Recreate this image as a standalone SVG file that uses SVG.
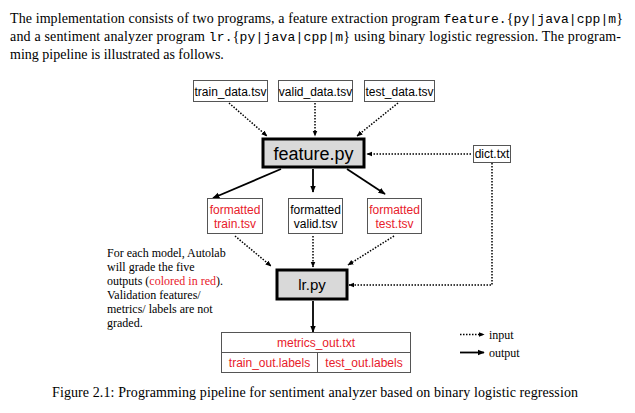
<svg xmlns="http://www.w3.org/2000/svg" width="635" height="413" viewBox="0 0 635 413">
<style>
.para{font-family:"Liberation Serif","Times New Roman",serif;font-size:14px;fill:#000}
.mono{font-family:"Liberation Mono","Courier New",monospace;font-size:13px}
.note{font-family:"Liberation Serif","Times New Roman",serif;font-size:12px;fill:#000}
.lbl{font-family:"Liberation Sans",Arial,sans-serif;font-size:12px;fill:#000;text-anchor:middle}
.red{fill:#e8202a}
.box{fill:#fff;stroke:#555;stroke-width:1}
.prog{fill:#d9d9d9;stroke:#000;stroke-width:3}
.dot{fill:none;stroke:#000;stroke-width:1.5;stroke-dasharray:1.5 1.5;marker-end:url(#ah)}
.sol{fill:none;stroke:#000;stroke-width:1.8;marker-end:url(#ah)}
</style>
<defs>
<marker id="ah" viewBox="0 0 10 10" refX="9" refY="5" markerWidth="4" markerHeight="4" orient="auto" markerUnits="strokeWidth">
<path d="M0,1 L10,5 L0,9 z" fill="#000"/>
</marker>
</defs>
<rect width="635" height="413" fill="#fff"/>

<g id="paragraph">
<text class="para" x="10" y="23" textLength="613">The implementation consists of two programs, a feature extraction program <tspan class="mono">feature.</tspan>{<tspan class="mono">py|java|cpp|m</tspan>}</text>
<text class="para" x="10" y="41" textLength="611">and a sentiment analyzer program <tspan class="mono">lr.</tspan>{<tspan class="mono">py|java|cpp|m</tspan>} using binary logistic regression.  The program-</text>
<text class="para" x="10" y="59">ming pipeline is illustrated as follows.</text>
</g>

<g id="connectors">
<line class="dot" x1="229" y1="103" x2="267" y2="136"/>
<line class="dot" x1="315" y1="103" x2="315" y2="136"/>
<line class="dot" x1="398" y1="103" x2="357" y2="136"/>
<line class="dot" x1="471" y1="154" x2="367" y2="154"/>
<line class="sol" x1="281" y1="169" x2="213" y2="198"/>
<line class="sol" x1="313" y1="169" x2="313" y2="192"/>
<line class="sol" x1="347" y1="169" x2="385" y2="194"/>
<line class="dot" x1="235" y1="236" x2="271" y2="266"/>
<line class="dot" x1="313" y1="236" x2="313" y2="267"/>
<line class="dot" x1="394" y1="236" x2="348" y2="265"/>
<polyline class="dot" points="492,163 492,285 349,285"/>
<line class="sol" x1="313" y1="301" x2="313" y2="332"/>
</g>

<g id="train_data"><rect class="box" x="193.5" y="80.5" width="74" height="21"/><text class="lbl" x="230.5" y="95.5">train_data.tsv</text></g>
<g id="valid_data"><rect class="box" x="278.5" y="80.5" width="74" height="21"/><text class="lbl" x="315.5" y="95.5">valid_data.tsv</text></g>
<g id="test_data"><rect class="box" x="364.5" y="80.5" width="70" height="21"/><text class="lbl" x="399.5" y="95.5">test_data.tsv</text></g>

<g id="feature_py"><rect class="prog" x="263" y="139" width="101" height="28"/><text class="lbl" x="313.5" y="159.5" style="font-size:18px">feature.py</text></g>
<g id="dict_txt"><rect class="box" x="473.5" y="145.5" width="37" height="17"/><text class="lbl" x="492" y="158">dict.txt</text></g>

<g id="formatted_train"><rect class="box" x="207.5" y="198.5" width="55" height="35"/><text class="lbl red" x="235" y="213.5">formatted</text><text class="lbl red" x="235" y="227.5">train.tsv</text></g>
<g id="formatted_valid"><rect class="box" x="288.5" y="198.5" width="54" height="35"/><text class="lbl" x="315.5" y="213.5">formatted</text><text class="lbl" x="315.5" y="227.5">valid.tsv</text></g>
<g id="formatted_test"><rect class="box" x="367.5" y="198.5" width="54" height="35"/><text class="lbl red" x="394.5" y="213.5">formatted</text><text class="lbl red" x="394.5" y="227.5">test.tsv</text></g>

<g id="lr_py"><rect class="prog" x="277" y="270" width="70" height="29"/><text class="lbl" x="312" y="290" style="font-size:15px">lr.py</text></g>

<g id="outputs">
<rect class="box" x="221.5" y="332.5" width="189" height="40"/>
<line x1="221.5" y1="352.5" x2="410.5" y2="352.5" stroke="#555"/>
<line x1="317.5" y1="352.5" x2="317.5" y2="372.5" stroke="#555"/>
<text class="lbl red" x="316" y="347">metrics_out.txt</text>
<text class="lbl red" x="269.5" y="367">train_out.labels</text>
<text class="lbl red" x="364" y="367">test_out.labels</text>
</g>

<g id="note">
<text class="note" x="107" y="257">For each model, Autolab</text>
<text class="note" x="107" y="271">will grade the five</text>
<text class="note" x="107" y="285">outputs (<tspan class="red">colored in red</tspan>).</text>
<text class="note" x="107" y="299">Validation features/</text>
<text class="note" x="107" y="313">metrics/ labels are not</text>
<text class="note" x="107" y="327">graded.</text>
</g>

<g id="legend">
<line class="dot" x1="460" y1="334.5" x2="484" y2="334.5"/>
<text class="note" x="489" y="338.5">input</text>
<line class="sol" x1="460" y1="352.5" x2="484" y2="352.5"/>
<text class="note" x="489" y="356.5">output</text>
</g>

<text class="para" x="52" y="397" textLength="526">Figure 2.1: Programming pipeline for sentiment analyzer based on binary logistic regression</text>
</svg>
